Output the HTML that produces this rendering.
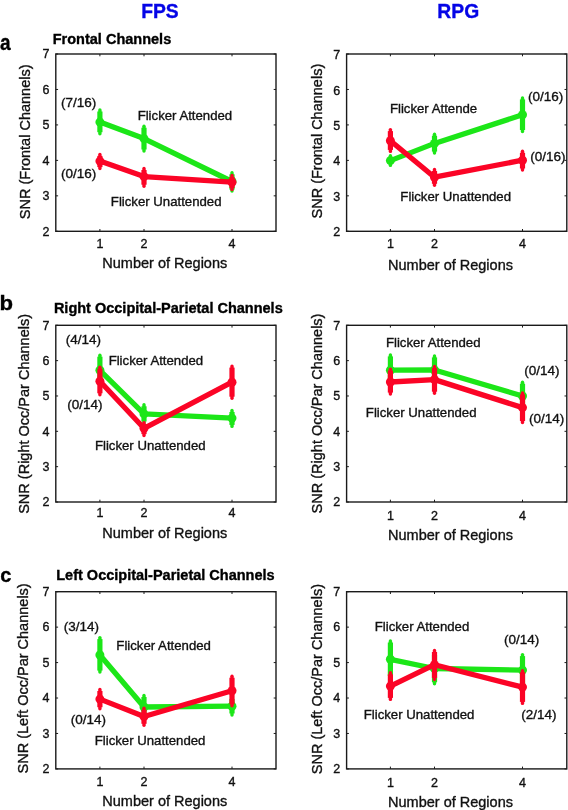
<!DOCTYPE html><html><head><meta charset="utf-8"><style>html,body{margin:0;padding:0;background:#fff;overflow:hidden}svg{display:block;will-change:transform}text{font-family:"Liberation Sans",sans-serif;stroke:currentColor;stroke-width:0.35px}</style></head><body>
<svg width="568" height="810" viewBox="0 0 568 810">
<rect width="568" height="810" fill="#fff"/>
<g><path d="M99.9 231.3v-2.3M99.9 54v2.3" stroke="#1a1a1a" stroke-width="1"/><path d="M144 231.3v-2.3M144 54v2.3" stroke="#1a1a1a" stroke-width="1"/><path d="M232 231.3v-2.3M232 54v2.3" stroke="#1a1a1a" stroke-width="1"/><path d="M55.8 231.3h2.3M276 231.3h-2.3" stroke="#1a1a1a" stroke-width="1"/><path d="M55.8 195.84h2.3M276 195.84h-2.3" stroke="#1a1a1a" stroke-width="1"/><path d="M55.8 160.38h2.3M276 160.38h-2.3" stroke="#1a1a1a" stroke-width="1"/><path d="M55.8 124.92h2.3M276 124.92h-2.3" stroke="#1a1a1a" stroke-width="1"/><path d="M55.8 89.46h2.3M276 89.46h-2.3" stroke="#1a1a1a" stroke-width="1"/><path d="M55.8 54h2.3M276 54h-2.3" stroke="#1a1a1a" stroke-width="1"/><rect x="55.8" y="54" width="220.2" height="177.3" fill="none" stroke="#1a1a1a" stroke-width="1.4"/><text x="99.9" y="247.7" font-size="12.5" text-anchor="middle" fill="#111" color="#111">1</text><text x="144" y="247.7" font-size="12.5" text-anchor="middle" fill="#111" color="#111">2</text><text x="232" y="247.7" font-size="12.5" text-anchor="middle" fill="#111" color="#111">4</text><text x="49.5" y="235.6" font-size="12.5" text-anchor="end" fill="#111" color="#111">2</text><text x="49.5" y="200.14" font-size="12.5" text-anchor="end" fill="#111" color="#111">3</text><text x="49.5" y="164.68" font-size="12.5" text-anchor="end" fill="#111" color="#111">4</text><text x="49.5" y="129.22" font-size="12.5" text-anchor="end" fill="#111" color="#111">5</text><text x="49.5" y="93.76" font-size="12.5" text-anchor="end" fill="#111" color="#111">6</text><text x="49.5" y="58.3" font-size="12.5" text-anchor="end" fill="#111" color="#111">7</text><text transform="translate(29.7,219.2) rotate(-90)" font-size="14.5" fill="#111" color="#111">SNR (Frontal Channels)</text><path d="M99.9 122.1 L144 138.6 L232 181.5" fill="none" stroke="#1ce618" stroke-width="5.3" stroke-linejoin="round" stroke-linecap="round"/><path d="M99.9 111.5V132.2" stroke="#1ce618" stroke-width="5.2"/><path d="M99.9 110V133.7" stroke="#1ce618" stroke-width="3.4" stroke-linecap="round"/><circle cx="99.9" cy="122.1" r="4.5" fill="#1ce618"/><path d="M144 127.7V149.5" stroke="#1ce618" stroke-width="5.2"/><path d="M144 126.2V151" stroke="#1ce618" stroke-width="3.4" stroke-linecap="round"/><circle cx="144" cy="138.6" r="4.5" fill="#1ce618"/><path d="M232 174.3V189.6" stroke="#1ce618" stroke-width="5.2"/><path d="M232 172.8V191.1" stroke="#1ce618" stroke-width="3.4" stroke-linecap="round"/><circle cx="232" cy="181.5" r="4.5" fill="#1ce618"/><path d="M99.9 161.1 L144 176.6 L232 182.2" fill="none" stroke="#fb0426" stroke-width="5.3" stroke-linejoin="round" stroke-linecap="round"/><path d="M99.9 155.9V167.1" stroke="#fb0426" stroke-width="5.2"/><path d="M99.9 154.4V168.6" stroke="#fb0426" stroke-width="3.4" stroke-linecap="round"/><circle cx="99.9" cy="161.1" r="4.5" fill="#fb0426"/><path d="M144 170V184.7" stroke="#fb0426" stroke-width="5.2"/><path d="M144 168.5V186.2" stroke="#fb0426" stroke-width="3.4" stroke-linecap="round"/><circle cx="144" cy="176.6" r="4.5" fill="#fb0426"/><path d="M232 177V188" stroke="#fb0426" stroke-width="5.2"/><path d="M232 175.5V189.5" stroke="#fb0426" stroke-width="3.4" stroke-linecap="round"/><circle cx="232" cy="182.2" r="4.5" fill="#fb0426"/></g>
<g><path d="M390.4 231.3v-2.3M390.4 54v2.3" stroke="#1a1a1a" stroke-width="1"/><path d="M434.5 231.3v-2.3M434.5 54v2.3" stroke="#1a1a1a" stroke-width="1"/><path d="M522.5 231.3v-2.3M522.5 54v2.3" stroke="#1a1a1a" stroke-width="1"/><path d="M346.6 231.3h2.3M566.8 231.3h-2.3" stroke="#1a1a1a" stroke-width="1"/><path d="M346.6 195.84h2.3M566.8 195.84h-2.3" stroke="#1a1a1a" stroke-width="1"/><path d="M346.6 160.38h2.3M566.8 160.38h-2.3" stroke="#1a1a1a" stroke-width="1"/><path d="M346.6 124.92h2.3M566.8 124.92h-2.3" stroke="#1a1a1a" stroke-width="1"/><path d="M346.6 89.46h2.3M566.8 89.46h-2.3" stroke="#1a1a1a" stroke-width="1"/><path d="M346.6 54h2.3M566.8 54h-2.3" stroke="#1a1a1a" stroke-width="1"/><rect x="346.6" y="54" width="220.2" height="177.3" fill="none" stroke="#1a1a1a" stroke-width="1.4"/><text x="390.4" y="247.7" font-size="12.5" text-anchor="middle" fill="#111" color="#111">1</text><text x="434.5" y="247.7" font-size="12.5" text-anchor="middle" fill="#111" color="#111">2</text><text x="522.5" y="247.7" font-size="12.5" text-anchor="middle" fill="#111" color="#111">4</text><text x="340.2" y="236.4" font-size="12.5" text-anchor="end" fill="#111" color="#111">2</text><text x="340.2" y="200.94" font-size="12.5" text-anchor="end" fill="#111" color="#111">3</text><text x="340.2" y="165.48" font-size="12.5" text-anchor="end" fill="#111" color="#111">4</text><text x="340.2" y="130.02" font-size="12.5" text-anchor="end" fill="#111" color="#111">5</text><text x="340.2" y="94.56" font-size="12.5" text-anchor="end" fill="#111" color="#111">6</text><text x="340.2" y="59.1" font-size="12.5" text-anchor="end" fill="#111" color="#111">7</text><text transform="translate(322,218.5) rotate(-90)" font-size="14.5" fill="#111" color="#111">SNR (Frontal Channels)</text><path d="M390.4 160.6 L434.5 143.4 L522.5 114.8" fill="none" stroke="#1ce618" stroke-width="5.3" stroke-linejoin="round" stroke-linecap="round"/><path d="M390.4 157.3V163.9" stroke="#1ce618" stroke-width="5.2"/><path d="M390.4 155.8V165.4" stroke="#1ce618" stroke-width="3.4" stroke-linecap="round"/><circle cx="390.4" cy="160.6" r="4.5" fill="#1ce618"/><path d="M434.5 135.7V151.6" stroke="#1ce618" stroke-width="5.2"/><path d="M434.5 134.2V153.1" stroke="#1ce618" stroke-width="3.4" stroke-linecap="round"/><circle cx="434.5" cy="143.4" r="4.5" fill="#1ce618"/><path d="M522.5 99.4V130" stroke="#1ce618" stroke-width="5.2"/><path d="M522.5 97.9V131.5" stroke="#1ce618" stroke-width="3.4" stroke-linecap="round"/><circle cx="522.5" cy="114.8" r="4.5" fill="#1ce618"/><path d="M390.4 140.7 L434.5 177.2 L522.5 160.2" fill="none" stroke="#fb0426" stroke-width="5.3" stroke-linejoin="round" stroke-linecap="round"/><path d="M390.4 131.1V149.9" stroke="#fb0426" stroke-width="5.2"/><path d="M390.4 129.6V151.4" stroke="#fb0426" stroke-width="3.4" stroke-linecap="round"/><circle cx="390.4" cy="140.7" r="4.5" fill="#fb0426"/><path d="M434.5 171V183.8" stroke="#fb0426" stroke-width="5.2"/><path d="M434.5 169.5V185.3" stroke="#fb0426" stroke-width="3.4" stroke-linecap="round"/><circle cx="434.5" cy="177.2" r="4.5" fill="#fb0426"/><path d="M522.5 152.8V168.5" stroke="#fb0426" stroke-width="5.2"/><path d="M522.5 151.3V170" stroke="#fb0426" stroke-width="3.4" stroke-linecap="round"/><circle cx="522.5" cy="160.2" r="4.5" fill="#fb0426"/></g>
<g><path d="M99.9 502v-2.3M99.9 325.3v2.3" stroke="#1a1a1a" stroke-width="1"/><path d="M144 502v-2.3M144 325.3v2.3" stroke="#1a1a1a" stroke-width="1"/><path d="M232 502v-2.3M232 325.3v2.3" stroke="#1a1a1a" stroke-width="1"/><path d="M55.8 502h2.3M276 502h-2.3" stroke="#1a1a1a" stroke-width="1"/><path d="M55.8 466.66h2.3M276 466.66h-2.3" stroke="#1a1a1a" stroke-width="1"/><path d="M55.8 431.32h2.3M276 431.32h-2.3" stroke="#1a1a1a" stroke-width="1"/><path d="M55.8 395.98h2.3M276 395.98h-2.3" stroke="#1a1a1a" stroke-width="1"/><path d="M55.8 360.64h2.3M276 360.64h-2.3" stroke="#1a1a1a" stroke-width="1"/><path d="M55.8 325.3h2.3M276 325.3h-2.3" stroke="#1a1a1a" stroke-width="1"/><rect x="55.8" y="325.3" width="220.2" height="176.7" fill="none" stroke="#1a1a1a" stroke-width="1.4"/><text x="99.9" y="516.6" font-size="12.5" text-anchor="middle" fill="#111" color="#111">1</text><text x="144" y="516.6" font-size="12.5" text-anchor="middle" fill="#111" color="#111">2</text><text x="232" y="516.6" font-size="12.5" text-anchor="middle" fill="#111" color="#111">4</text><text x="49.5" y="506.3" font-size="12.5" text-anchor="end" fill="#111" color="#111">2</text><text x="49.5" y="470.96" font-size="12.5" text-anchor="end" fill="#111" color="#111">3</text><text x="49.5" y="435.62" font-size="12.5" text-anchor="end" fill="#111" color="#111">4</text><text x="49.5" y="400.28" font-size="12.5" text-anchor="end" fill="#111" color="#111">5</text><text x="49.5" y="364.94" font-size="12.5" text-anchor="end" fill="#111" color="#111">6</text><text x="49.5" y="329.6" font-size="12.5" text-anchor="end" fill="#111" color="#111">7</text><text transform="translate(29,513.8) rotate(-90)" font-size="14.5" fill="#111" color="#111">SNR (Right Occ/Par Channels)</text><path d="M99.9 370.3 L144 413.9 L232 418.1" fill="none" stroke="#1ce618" stroke-width="5.3" stroke-linejoin="round" stroke-linecap="round"/><path d="M99.9 356.7V383.9" stroke="#1ce618" stroke-width="5.2"/><path d="M99.9 355.2V385.4" stroke="#1ce618" stroke-width="3.4" stroke-linecap="round"/><circle cx="99.9" cy="370.3" r="4.5" fill="#1ce618"/><path d="M144 406.3V421.5" stroke="#1ce618" stroke-width="5.2"/><path d="M144 404.8V423" stroke="#1ce618" stroke-width="3.4" stroke-linecap="round"/><circle cx="144" cy="413.9" r="4.5" fill="#1ce618"/><path d="M232 412V424.9" stroke="#1ce618" stroke-width="5.2"/><path d="M232 410.5V426.4" stroke="#1ce618" stroke-width="3.4" stroke-linecap="round"/><circle cx="232" cy="418.1" r="4.5" fill="#1ce618"/><path d="M99.9 381.2 L144 428.3 L232 382.2" fill="none" stroke="#fb0426" stroke-width="5.3" stroke-linejoin="round" stroke-linecap="round"/><path d="M99.9 368.8V393.3" stroke="#fb0426" stroke-width="5.2"/><path d="M99.9 367.3V394.8" stroke="#fb0426" stroke-width="3.4" stroke-linecap="round"/><circle cx="99.9" cy="381.2" r="4.5" fill="#fb0426"/><path d="M144 424.3V434.1" stroke="#fb0426" stroke-width="5.2"/><path d="M144 422.8V435.6" stroke="#fb0426" stroke-width="3.4" stroke-linecap="round"/><circle cx="144" cy="428.3" r="4.5" fill="#fb0426"/><path d="M232 367.6V396.7" stroke="#fb0426" stroke-width="5.2"/><path d="M232 366.1V398.2" stroke="#fb0426" stroke-width="3.4" stroke-linecap="round"/><circle cx="232" cy="382.2" r="4.5" fill="#fb0426"/></g>
<g><path d="M390.4 502v-2.3M390.4 325.3v2.3" stroke="#1a1a1a" stroke-width="1"/><path d="M434.5 502v-2.3M434.5 325.3v2.3" stroke="#1a1a1a" stroke-width="1"/><path d="M522.5 502v-2.3M522.5 325.3v2.3" stroke="#1a1a1a" stroke-width="1"/><path d="M346.6 502h2.3M566.8 502h-2.3" stroke="#1a1a1a" stroke-width="1"/><path d="M346.6 466.66h2.3M566.8 466.66h-2.3" stroke="#1a1a1a" stroke-width="1"/><path d="M346.6 431.32h2.3M566.8 431.32h-2.3" stroke="#1a1a1a" stroke-width="1"/><path d="M346.6 395.98h2.3M566.8 395.98h-2.3" stroke="#1a1a1a" stroke-width="1"/><path d="M346.6 360.64h2.3M566.8 360.64h-2.3" stroke="#1a1a1a" stroke-width="1"/><path d="M346.6 325.3h2.3M566.8 325.3h-2.3" stroke="#1a1a1a" stroke-width="1"/><rect x="346.6" y="325.3" width="220.2" height="176.7" fill="none" stroke="#1a1a1a" stroke-width="1.4"/><text x="390.4" y="519.5" font-size="12.5" text-anchor="middle" fill="#111" color="#111">1</text><text x="434.5" y="519.5" font-size="12.5" text-anchor="middle" fill="#111" color="#111">2</text><text x="522.5" y="519.5" font-size="12.5" text-anchor="middle" fill="#111" color="#111">4</text><text x="340.2" y="506.3" font-size="12.5" text-anchor="end" fill="#111" color="#111">2</text><text x="340.2" y="470.96" font-size="12.5" text-anchor="end" fill="#111" color="#111">3</text><text x="340.2" y="435.62" font-size="12.5" text-anchor="end" fill="#111" color="#111">4</text><text x="340.2" y="400.28" font-size="12.5" text-anchor="end" fill="#111" color="#111">5</text><text x="340.2" y="364.94" font-size="12.5" text-anchor="end" fill="#111" color="#111">6</text><text x="340.2" y="329.6" font-size="12.5" text-anchor="end" fill="#111" color="#111">7</text><text transform="translate(321.8,513.4) rotate(-90)" font-size="14.5" fill="#111" color="#111">SNR (Right Occ/Par Channels)</text><path d="M390.4 370.2 L434.5 370 L522.5 396" fill="none" stroke="#1ce618" stroke-width="5.3" stroke-linejoin="round" stroke-linecap="round"/><path d="M390.4 356.4V384" stroke="#1ce618" stroke-width="5.2"/><path d="M390.4 354.9V385.5" stroke="#1ce618" stroke-width="3.4" stroke-linecap="round"/><circle cx="390.4" cy="370.2" r="4.5" fill="#1ce618"/><path d="M434.5 357.4V382.6" stroke="#1ce618" stroke-width="5.2"/><path d="M434.5 355.9V384.1" stroke="#1ce618" stroke-width="3.4" stroke-linecap="round"/><circle cx="434.5" cy="370" r="4.5" fill="#1ce618"/><path d="M522.5 383.7V408.3" stroke="#1ce618" stroke-width="5.2"/><path d="M522.5 382.2V409.8" stroke="#1ce618" stroke-width="3.4" stroke-linecap="round"/><circle cx="522.5" cy="396" r="4.5" fill="#1ce618"/><path d="M390.4 382 L434.5 379.6 L522.5 407.6" fill="none" stroke="#fb0426" stroke-width="5.3" stroke-linejoin="round" stroke-linecap="round"/><path d="M390.4 370.6V392.6" stroke="#fb0426" stroke-width="5.2"/><path d="M390.4 369.1V394.1" stroke="#fb0426" stroke-width="3.4" stroke-linecap="round"/><circle cx="390.4" cy="382" r="4.5" fill="#fb0426"/><path d="M434.5 368V391.7" stroke="#fb0426" stroke-width="5.2"/><path d="M434.5 366.5V393.2" stroke="#fb0426" stroke-width="3.4" stroke-linecap="round"/><circle cx="434.5" cy="379.6" r="4.5" fill="#fb0426"/><path d="M522.5 394.4V421" stroke="#fb0426" stroke-width="5.2"/><path d="M522.5 392.9V422.5" stroke="#fb0426" stroke-width="3.4" stroke-linecap="round"/><circle cx="522.5" cy="407.6" r="4.5" fill="#fb0426"/></g>
<g><path d="M99.9 768.9v-2.3M99.9 591.7v2.3" stroke="#1a1a1a" stroke-width="1"/><path d="M144 768.9v-2.3M144 591.7v2.3" stroke="#1a1a1a" stroke-width="1"/><path d="M232 768.9v-2.3M232 591.7v2.3" stroke="#1a1a1a" stroke-width="1"/><path d="M55.8 768.9h2.3M276 768.9h-2.3" stroke="#1a1a1a" stroke-width="1"/><path d="M55.8 733.46h2.3M276 733.46h-2.3" stroke="#1a1a1a" stroke-width="1"/><path d="M55.8 698.02h2.3M276 698.02h-2.3" stroke="#1a1a1a" stroke-width="1"/><path d="M55.8 662.58h2.3M276 662.58h-2.3" stroke="#1a1a1a" stroke-width="1"/><path d="M55.8 627.14h2.3M276 627.14h-2.3" stroke="#1a1a1a" stroke-width="1"/><path d="M55.8 591.7h2.3M276 591.7h-2.3" stroke="#1a1a1a" stroke-width="1"/><rect x="55.8" y="591.7" width="220.2" height="177.2" fill="none" stroke="#1a1a1a" stroke-width="1.4"/><text x="99.9" y="786.4" font-size="12.5" text-anchor="middle" fill="#111" color="#111">1</text><text x="144" y="786.4" font-size="12.5" text-anchor="middle" fill="#111" color="#111">2</text><text x="232" y="786.4" font-size="12.5" text-anchor="middle" fill="#111" color="#111">4</text><text x="49.5" y="773.2" font-size="12.5" text-anchor="end" fill="#111" color="#111">2</text><text x="49.5" y="737.76" font-size="12.5" text-anchor="end" fill="#111" color="#111">3</text><text x="49.5" y="702.32" font-size="12.5" text-anchor="end" fill="#111" color="#111">4</text><text x="49.5" y="666.88" font-size="12.5" text-anchor="end" fill="#111" color="#111">5</text><text x="49.5" y="631.44" font-size="12.5" text-anchor="end" fill="#111" color="#111">6</text><text x="49.5" y="596" font-size="12.5" text-anchor="end" fill="#111" color="#111">7</text><text transform="translate(28.2,773.5) rotate(-90)" font-size="14.5" fill="#111" color="#111">SNR (Left Occ/Par Channels)</text><path d="M99.9 655 L144 707 L232 706.2" fill="none" stroke="#1ce618" stroke-width="5.3" stroke-linejoin="round" stroke-linecap="round"/><path d="M99.9 639.1V670.6" stroke="#1ce618" stroke-width="5.2"/><path d="M99.9 637.6V672.1" stroke="#1ce618" stroke-width="3.4" stroke-linecap="round"/><circle cx="99.9" cy="655" r="4.5" fill="#1ce618"/><path d="M144 697V717" stroke="#1ce618" stroke-width="5.2"/><path d="M144 695.5V718.5" stroke="#1ce618" stroke-width="3.4" stroke-linecap="round"/><circle cx="144" cy="707" r="4.5" fill="#1ce618"/><path d="M232 698.9V713.5" stroke="#1ce618" stroke-width="5.2"/><path d="M232 697.4V715" stroke="#1ce618" stroke-width="3.4" stroke-linecap="round"/><circle cx="232" cy="706.2" r="4.5" fill="#1ce618"/><path d="M99.9 699.1 L144 716.5 L232 690.8" fill="none" stroke="#fb0426" stroke-width="5.3" stroke-linejoin="round" stroke-linecap="round"/><path d="M99.9 691V707.2" stroke="#fb0426" stroke-width="5.2"/><path d="M99.9 689.5V708.7" stroke="#fb0426" stroke-width="3.4" stroke-linecap="round"/><circle cx="99.9" cy="699.1" r="4.5" fill="#fb0426"/><path d="M144 709.8V723.8" stroke="#fb0426" stroke-width="5.2"/><path d="M144 708.3V725.3" stroke="#fb0426" stroke-width="3.4" stroke-linecap="round"/><circle cx="144" cy="716.5" r="4.5" fill="#fb0426"/><path d="M232 677.7V704.2" stroke="#fb0426" stroke-width="5.2"/><path d="M232 676.2V705.7" stroke="#fb0426" stroke-width="3.4" stroke-linecap="round"/><circle cx="232" cy="690.8" r="4.5" fill="#fb0426"/></g>
<g><path d="M390.4 768.9v-2.3M390.4 591.7v2.3" stroke="#1a1a1a" stroke-width="1"/><path d="M434.5 768.9v-2.3M434.5 591.7v2.3" stroke="#1a1a1a" stroke-width="1"/><path d="M522.5 768.9v-2.3M522.5 591.7v2.3" stroke="#1a1a1a" stroke-width="1"/><path d="M346.6 768.9h2.3M566.8 768.9h-2.3" stroke="#1a1a1a" stroke-width="1"/><path d="M346.6 733.46h2.3M566.8 733.46h-2.3" stroke="#1a1a1a" stroke-width="1"/><path d="M346.6 698.02h2.3M566.8 698.02h-2.3" stroke="#1a1a1a" stroke-width="1"/><path d="M346.6 662.58h2.3M566.8 662.58h-2.3" stroke="#1a1a1a" stroke-width="1"/><path d="M346.6 627.14h2.3M566.8 627.14h-2.3" stroke="#1a1a1a" stroke-width="1"/><path d="M346.6 591.7h2.3M566.8 591.7h-2.3" stroke="#1a1a1a" stroke-width="1"/><rect x="346.6" y="591.7" width="220.2" height="177.2" fill="none" stroke="#1a1a1a" stroke-width="1.4"/><text x="390.4" y="786.6" font-size="12.5" text-anchor="middle" fill="#111" color="#111">1</text><text x="434.5" y="786.6" font-size="12.5" text-anchor="middle" fill="#111" color="#111">2</text><text x="522.5" y="786.6" font-size="12.5" text-anchor="middle" fill="#111" color="#111">4</text><text x="340.2" y="773.2" font-size="12.5" text-anchor="end" fill="#111" color="#111">2</text><text x="340.2" y="737.76" font-size="12.5" text-anchor="end" fill="#111" color="#111">3</text><text x="340.2" y="702.32" font-size="12.5" text-anchor="end" fill="#111" color="#111">4</text><text x="340.2" y="666.88" font-size="12.5" text-anchor="end" fill="#111" color="#111">5</text><text x="340.2" y="631.44" font-size="12.5" text-anchor="end" fill="#111" color="#111">6</text><text x="340.2" y="596" font-size="12.5" text-anchor="end" fill="#111" color="#111">7</text><text transform="translate(321.5,774.2) rotate(-90)" font-size="14.5" fill="#111" color="#111">SNR (Left Occ/Par Channels)</text><path d="M390.4 659.3 L434.5 668.5 L522.5 670.1" fill="none" stroke="#1ce618" stroke-width="5.3" stroke-linejoin="round" stroke-linecap="round"/><path d="M390.4 642.5V676.1" stroke="#1ce618" stroke-width="5.2"/><path d="M390.4 641V677.6" stroke="#1ce618" stroke-width="3.4" stroke-linecap="round"/><circle cx="390.4" cy="659.3" r="4.5" fill="#1ce618"/><path d="M434.5 654.7V682.3" stroke="#1ce618" stroke-width="5.2"/><path d="M434.5 653.2V683.8" stroke="#1ce618" stroke-width="3.4" stroke-linecap="round"/><circle cx="434.5" cy="668.5" r="4.5" fill="#1ce618"/><path d="M522.5 656.1V684.1" stroke="#1ce618" stroke-width="5.2"/><path d="M522.5 654.6V685.6" stroke="#1ce618" stroke-width="3.4" stroke-linecap="round"/><circle cx="522.5" cy="670.1" r="4.5" fill="#1ce618"/><path d="M390.4 686.1 L434.5 664.7 L522.5 687.1" fill="none" stroke="#fb0426" stroke-width="5.3" stroke-linejoin="round" stroke-linecap="round"/><path d="M390.4 674.3V697.9" stroke="#fb0426" stroke-width="5.2"/><path d="M390.4 672.8V699.4" stroke="#fb0426" stroke-width="3.4" stroke-linecap="round"/><circle cx="390.4" cy="686.1" r="4.5" fill="#fb0426"/><path d="M434.5 652V678" stroke="#fb0426" stroke-width="5.2"/><path d="M434.5 650.5V679.5" stroke="#fb0426" stroke-width="3.4" stroke-linecap="round"/><circle cx="434.5" cy="664.7" r="4.5" fill="#fb0426"/><path d="M522.5 672.2V701.9" stroke="#fb0426" stroke-width="5.2"/><path d="M522.5 670.7V703.4" stroke="#fb0426" stroke-width="3.4" stroke-linecap="round"/><circle cx="522.5" cy="687.1" r="4.5" fill="#fb0426"/></g>
<text x="141.15" y="17.9" font-size="19.3" font-weight="bold" fill="#0404e6" color="#0404e6">FPS</text>
<text x="437.35" y="17.9" font-size="19.3" font-weight="bold" fill="#0404e6" color="#0404e6">RPG</text>
<text x="0.2" y="581.6" font-size="20" font-weight="bold" fill="#000" color="#000">c</text>
<text x="52.78" y="43.6" font-size="14.5" font-weight="bold" fill="#000" color="#000">Frontal Channels</text>
<text x="53.88" y="312.6" font-size="14.5" font-weight="bold" fill="#000" color="#000">Right Occipital-Parietal Channels</text>
<text x="56.28" y="579.6" font-size="14.5" font-weight="bold" fill="#000" color="#000">Left Occipital-Parietal Channels</text>
<text x="102.34" y="267.7" font-size="14.5" fill="#111" color="#111">Number of Regions</text>
<text x="388.04" y="269.6" font-size="14.5" fill="#111" color="#111">Number of Regions</text>
<text x="102.34" y="537.7" font-size="14.5" fill="#111" color="#111">Number of Regions</text>
<text x="388.04" y="540" font-size="14.5" fill="#111" color="#111">Number of Regions</text>
<text x="102.34" y="805.6" font-size="14.5" fill="#111" color="#111">Number of Regions</text>
<text x="388.04" y="807.2" font-size="14.5" fill="#111" color="#111">Number of Regions</text>
<text x="61.09" y="107.01" font-size="13.5" fill="#111" color="#111">(7/16)</text>
<text x="61.09" y="178.31" font-size="13.5" fill="#111" color="#111">(0/16)</text>
<text x="137.64" y="120.3" font-size="13.2" fill="#111" color="#111">Flicker Attended</text>
<text x="110.84" y="206" font-size="13.2" fill="#111" color="#111">Flicker Unattended</text>
<text x="389.94" y="113.3" font-size="13.2" fill="#111" color="#111">Flicker Attende</text>
<text x="400.34" y="200.6" font-size="13.2" fill="#111" color="#111">Flicker Unattended</text>
<text x="527.99" y="101.11" font-size="13.5" fill="#111" color="#111">(0/16)</text>
<text x="530.19" y="160.76" font-size="13.5" fill="#111" color="#111">(0/16)</text>
<text x="65.79" y="344.41" font-size="13.5" fill="#111" color="#111">(4/14)</text>
<text x="67.29" y="409.31" font-size="13.5" fill="#111" color="#111">(0/14)</text>
<text x="108.64" y="364.8" font-size="13.2" fill="#111" color="#111">Flicker Attended</text>
<text x="94.94" y="449.9" font-size="13.2" fill="#111" color="#111">Flicker Unattended</text>
<text x="385.94" y="346.9" font-size="13.2" fill="#111" color="#111">Flicker Attended</text>
<text x="365.84" y="417" font-size="13.2" fill="#111" color="#111">Flicker Unattended</text>
<text x="524.19" y="375.36" font-size="13.5" fill="#111" color="#111">(0/14)</text>
<text x="528.99" y="422.71" font-size="13.5" fill="#111" color="#111">(0/14)</text>
<text x="63.69" y="631.01" font-size="13.5" fill="#111" color="#111">(3/14)</text>
<text x="70.69" y="724.41" font-size="13.5" fill="#111" color="#111">(0/14)</text>
<text x="116.34" y="649.8" font-size="13.2" fill="#111" color="#111">Flicker Attended</text>
<text x="94.74" y="745.4" font-size="13.2" fill="#111" color="#111">Flicker Unattended</text>
<text x="374.74" y="631.1" font-size="13.2" fill="#111" color="#111">Flicker Attended</text>
<text x="363.74" y="719.4" font-size="13.2" fill="#111" color="#111">Flicker Unattended</text>
<text x="504.09" y="644.31" font-size="13.5" fill="#111" color="#111">(0/14)</text>
<text x="521.29" y="718.71" font-size="13.5" fill="#111" color="#111">(2/14)</text>
<text transform="translate(-0.04,50.3) scale(0.88,1)" font-size="21.6" font-weight="bold" fill="#000" color="#000">a</text>
<text transform="translate(-0.4,309.7) scale(1.08,1)" font-size="20.5" font-weight="bold" fill="#000" color="#000">b</text>
</svg></body></html>
